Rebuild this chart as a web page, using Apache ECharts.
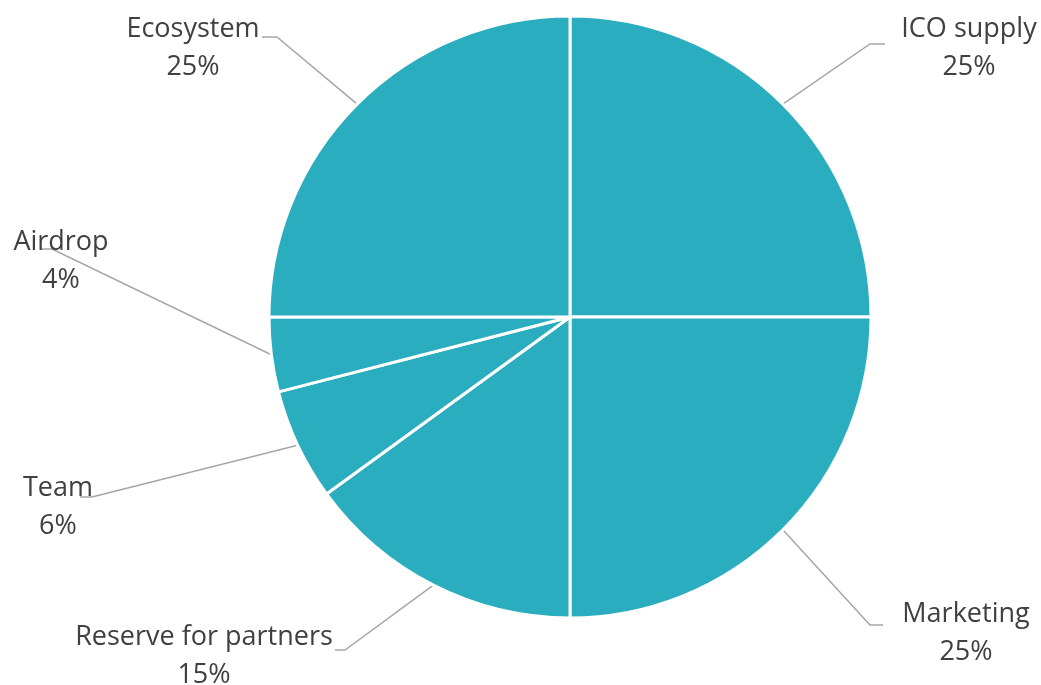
<!DOCTYPE html>
<html>
<head>
<meta charset="utf-8">
<script src="https://cdn.jsdelivr.net/npm/echarts@6/dist/echarts.min.js"></script>
<style>html,body{margin:0;padding:0;background:#fff;}#c{width:1041px;height:685px;}</style>
</head>
<body>
<div id="c"></div>
<script>
const categories = ['ICO supply', 'Marketing', 'Reserve for partners', 'Team', 'Airdrop', 'Ecosystem'];
const values = [25, 25, 15, 6, 4, 25];

// label placement (text centre, elbow point, end point)
const labelPos = [
  {x: 969, y: 48, elbow: [870, 44], end: [885, 44]},
  {x: 966, y: 633, elbow: [870, 625], end: [883, 625]},
  {x: 204, y: 656, elbow: [345, 650], end: [335, 650]},
  {x: 58, y: 507, elbow: [92, 497], end: [80, 497]},
  {x: 61, y: 261, elbow: [52, 249], end: [40, 249]},
  {x: 193, y: 48, elbow: [277, 37], end: [262, 37]}
];

const chart = echarts.init(document.getElementById('c'), null, {renderer: 'canvas'});
chart.setOption({
  animation: false,
  series: [{
    type: 'pie',
    center: [570, 317],
    radius: [0, 301],
    startAngle: 90,
    clockwise: true,
    data: categories.map((n, i) => ({name: n, value: values[i]})),
    itemStyle: {color: '#2AADBF', borderColor: '#ffffff', borderWidth: 3},
    label: {
      show: true,
      position: 'outside',
      formatter: '{b}\n{c}%',
      fontFamily: 'Open Sans',
      fontSize: 27,
      lineHeight: 38,
      color: '#404040',
      align: 'center'
    },
    labelLine: {show: true, length: 20, length2: 10, lineStyle: {color: '#A6A6A6', width: 1.5}},
    labelLayout: function (params) {
      const p = labelPos[params.dataIndex];
      const start = params.labelLinePoints ? params.labelLinePoints[0] : p.elbow;
      return {
        x: p.x, y: p.y, align: 'center', verticalAlign: 'middle',
        labelLinePoints: [start, p.elbow, p.end]
      };
    }
  }]
});
</script>
</body>
</html>
